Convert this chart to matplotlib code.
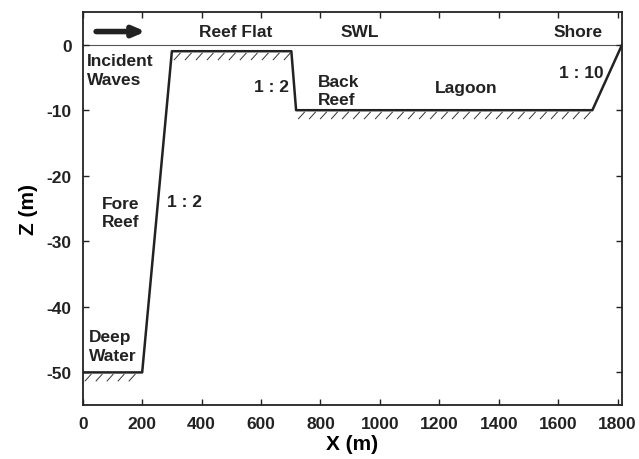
import numpy as np
import matplotlib
matplotlib.use("Agg")
import matplotlib.pyplot as plt

plt.rcParams['font.family'] = ['Liberation Sans', 'DejaVu Sans']
plt.rcParams['font.weight'] = 'bold'
plt.rcParams['axes.unicode_minus'] = False

# reef profile (cross-shore distance, bed elevation)
profile_x = [0, 200, 300, 702, 718, 1715, 1815]
profile_z = [-50, -50, -1, -1, -10, -10, 0]

# flat stretches of bed that get ground hatching: (x start, x end, z)
ground_segments = [(0, 200, -50), (300, 702, -1), (718, 1715, -10)]

x_ticks = np.arange(0, 1801, 200)
y_ticks = np.arange(-50, 1, 10)

# labels: (text, x, z, horizontal alignment)
labels = [
    ("Reef Flat", 515, 2.0, "center"),
    ("SWL", 932, 2.0, "center"),
    ("Shore", 1668, 2.0, "center"),
    ("Incident\nWaves", 14, -3.9, "left"),
    ("1 : 2", 634, -6.4, "center"),
    ("Back\nReef", 792, -7.0, "left"),
    ("Lagoon", 1292, -6.6, "center"),
    ("1 : 10", 1677, -4.2, "center"),
    ("Fore\nReef", 64, -25.6, "left"),
    ("1 : 2", 342, -24.0, "center"),
    ("Deep\nWater", 22, -46.0, "left"),
]

fig = plt.figure(figsize=(6.39, 4.60), dpi=100)
ax = fig.add_axes([0.1295, 0.117, 0.844, 0.855])

# still water level
ax.axhline(0, color='#555555', linewidth=0.8, zorder=1)

# bed profile
ax.plot(profile_x, profile_z, color='#222222', linewidth=1.8, zorder=3)

# ground hatching under flat parts
for x0, x1, z in ground_segments:
    for xs in np.arange(x0 + 8, x1 - 12, 37):
        ax.plot([xs, xs + 20], [z - 1.3, z - 0.3], color='#333333',
                linewidth=0.7, zorder=2)

# incident wave arrow
ax.annotate("", xy=(212, 2.0), xytext=(45, 2.0),
            arrowprops=dict(arrowstyle='-|>,head_length=0.7,head_width=0.3',
                            color='#222222', linewidth=4, shrinkA=0, shrinkB=0))

for text, x, z, ha in labels:
    ax.text(x, z, text, ha=ha, va='center', fontsize=12.5,
            fontweight='bold', color='#222222', linespacing=1.3)

ax.set_xlim(0, 1815)
ax.set_ylim(-55, 5)
ax.set_xticks(x_ticks)
ax.set_yticks(y_ticks)
ax.tick_params(direction='in', top=True, right=True, length=4, width=1,
               labelsize=12.5, pad=8, colors='#222222')
for lab in ax.get_xticklabels() + ax.get_yticklabels():
    lab.set_fontweight('bold')
for sp in ax.spines.values():
    sp.set_linewidth(1.3)
    sp.set_color('#222222')

ax.set_xlabel("X (m)", fontsize=15, fontweight='bold', labelpad=2)
ax.set_ylabel("Z (m)", fontsize=15, fontweight='bold', labelpad=6)

fig.savefig("out.png", dpi=100)
